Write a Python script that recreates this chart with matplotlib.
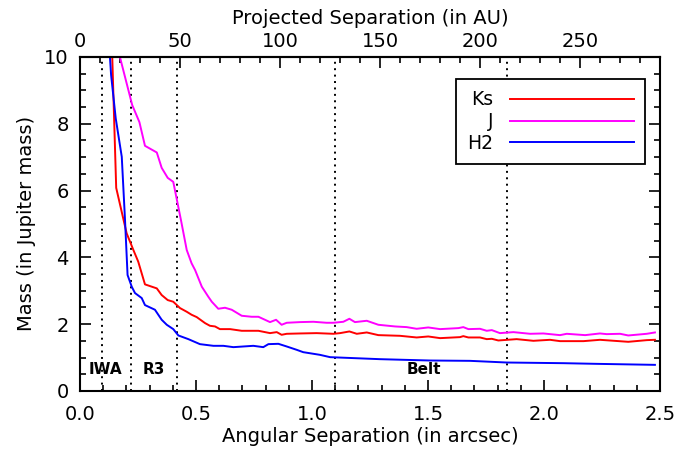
import matplotlib.pyplot as plt
from matplotlib.ticker import MultipleLocator, FixedLocator

# distance factor: AU per arcsec
au_per_arcsec = 116.0

# Ks band detection limit
sep_ks = [0.137, 0.139, 0.156, 0.201, 0.208, 0.230, 0.251, 0.280, 0.331, 0.352, 0.378,
          0.402, 0.431, 0.460, 0.481, 0.503, 0.539, 0.560, 0.582, 0.603, 0.647, 0.697,
          0.769, 0.819, 0.848, 0.869, 0.891, 0.948, 1.020, 1.092, 1.121, 1.161, 1.193,
          1.236, 1.286, 1.379, 1.451, 1.501, 1.552, 1.638, 1.652, 1.674, 1.724, 1.753,
          1.775, 1.803, 1.882, 1.954, 2.026, 2.069, 2.170, 2.241, 2.363, 2.443, 2.478]
mass_ks = [10.6, 10.0, 6.08, 4.72, 4.60, 4.22, 3.87, 3.19, 3.07, 2.87, 2.72,
           2.67, 2.48, 2.37, 2.28, 2.21, 2.03, 1.95, 1.93, 1.85, 1.85, 1.80,
           1.80, 1.73, 1.76, 1.68, 1.71, 1.72, 1.73, 1.71, 1.73, 1.78, 1.71,
           1.75, 1.67, 1.65, 1.60, 1.63, 1.58, 1.61, 1.64, 1.60, 1.60, 1.55,
           1.56, 1.51, 1.55, 1.50, 1.53, 1.49, 1.49, 1.53, 1.47, 1.52, 1.53]

# J band
sep_j = [0.165, 0.172, 0.225, 0.256, 0.280, 0.331, 0.352, 0.378, 0.402, 0.435, 0.460,
         0.481, 0.496, 0.525, 0.553, 0.568, 0.596, 0.625, 0.654, 0.697, 0.740, 0.769,
         0.819, 0.845, 0.869, 0.891, 0.948, 1.006, 1.063, 1.092, 1.135, 1.161, 1.185,
         1.236, 1.286, 1.358, 1.408, 1.451, 1.501, 1.552, 1.631, 1.652, 1.674, 1.724,
         1.753, 1.775, 1.810, 1.868, 1.940, 1.997, 2.069, 2.098, 2.177, 2.241, 2.270,
         2.328, 2.363, 2.443, 2.478]
mass_j = [10.5, 10.0, 8.56, 8.05, 7.34, 7.14, 6.68, 6.38, 6.26, 5.12, 4.22,
          3.82, 3.62, 3.12, 2.82, 2.67, 2.46, 2.49, 2.43, 2.25, 2.22, 2.22,
          2.06, 2.13, 1.98, 2.04, 2.06, 2.07, 2.04, 2.04, 2.07, 2.16, 2.06,
          2.10, 1.98, 1.93, 1.91, 1.86, 1.90, 1.85, 1.88, 1.91, 1.85, 1.86,
          1.80, 1.82, 1.73, 1.76, 1.71, 1.72, 1.67, 1.71, 1.67, 1.72, 1.70,
          1.71, 1.66, 1.71, 1.75]

# H2 band
sep_h2 = [0.127, 0.129, 0.134, 0.154, 0.180, 0.194, 0.205, 0.223, 0.237, 0.266, 0.280,
          0.323, 0.352, 0.374, 0.402, 0.424, 0.467, 0.517, 0.575, 0.618, 0.661, 0.704,
          0.747, 0.790, 0.812, 0.855, 0.891, 0.934, 0.962, 1.034, 1.078, 1.293, 1.509,
          1.681, 1.839, 2.083, 2.227, 2.478]
mass_h2 = [10.6, 10.0, 9.46, 8.16, 7.01, 5.12, 3.47, 3.12, 2.93, 2.78, 2.57,
           2.43, 2.13, 1.98, 1.85, 1.66, 1.55, 1.40, 1.35, 1.35, 1.31, 1.33,
           1.35, 1.31, 1.40, 1.41, 1.33, 1.23, 1.16, 1.08, 1.01, 0.95, 0.91,
           0.90, 0.85, 0.83, 0.81, 0.78]

# vertical markers (arcsec)
marker_sep = [0.094, 0.22, 0.42, 1.10, 1.84]
region_labels = ['IWA', 'R3', 'Belt']
region_x = [0.108, 0.32, 1.48]
au_ticks = [0, 50, 100, 150, 200, 250]

plt.rcParams['font.family'] = 'DejaVu Sans'
fig = plt.figure(figsize=(6.78, 4.54), dpi=100)
ax = fig.add_axes([0.118, 0.139, 0.8555, 0.7355])

for xs in marker_sep:
    ax.axvline(xs, color='black', linestyle=(0, (1, 2.3)), linewidth=1.4, zorder=1)

ax.plot(sep_ks, mass_ks, color='#ff0000', linewidth=1.4, label='Ks')
ax.plot(sep_j, mass_j, color='#ff00ff', linewidth=1.4, label='J')
ax.plot(sep_h2, mass_h2, color='#0000ff', linewidth=1.4, label='H2')

for lab, xl in zip(region_labels, region_x):
    ax.text(xl, 0.63, lab, ha='center', va='center', fontsize=11, fontweight='bold')

ax.set_xlim(0, 2.5)
ax.set_ylim(0, 10)
ax.xaxis.set_major_locator(MultipleLocator(0.5))
ax.xaxis.set_minor_locator(MultipleLocator(0.1))
ax.yaxis.set_major_locator(MultipleLocator(2))
ax.yaxis.set_minor_locator(MultipleLocator(0.5))
ax.xaxis.set_major_formatter(plt.FuncFormatter(lambda v, p: f'{v:.1f}'))
ax.tick_params(which='both', direction='in', right=True, labelsize=14, width=1.2)
ax.tick_params(which='major', length=8, pad=10)
ax.tick_params(axis='y', which='major', pad=8)
ax.tick_params(which='minor', length=4)
for sp in ax.spines.values():
    sp.set_linewidth(1.5)

ax.set_xlabel('Angular Separation (in arcsec)', fontsize=14, labelpad=2)
ax.set_ylabel('Mass (in Jupiter mass)', fontsize=14, labelpad=6)

top = ax.secondary_xaxis('top', functions=(lambda x: x * au_per_arcsec,
                                           lambda a: a / au_per_arcsec))
top.xaxis.set_major_locator(FixedLocator(au_ticks))
top.xaxis.set_minor_locator(MultipleLocator(10))
top.tick_params(which='both', direction='in', labelsize=14, width=1.2)
top.tick_params(which='major', length=8, pad=4)
top.tick_params(which='minor', length=4)
top.spines['top'].set_linewidth(1.5)
top.set_xlabel('Projected Separation (in AU)', fontsize=14, labelpad=6)

leg = ax.legend(loc='upper right', bbox_to_anchor=(0.974, 0.934), borderaxespad=0,
                markerfirst=False, fontsize=13.5, handlelength=6.6, handletextpad=0.9,
                borderpad=0.6, labelspacing=0.15, fancybox=False, framealpha=1,
                edgecolor='black')
leg.get_frame().set_linewidth(1.3)

fig.savefig('out.png', dpi=100)
